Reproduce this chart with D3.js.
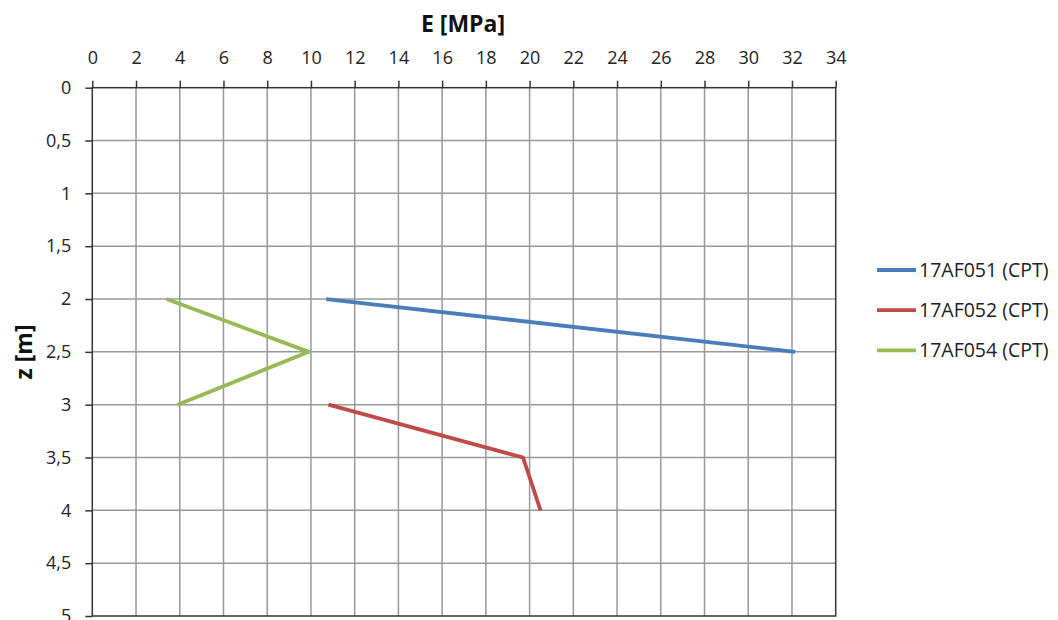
<!DOCTYPE html>
<html><head><meta charset="utf-8">
<script src="https://cdn.jsdelivr.net/npm/d3@7"></script>
<style>body{margin:0;background:#fff;} svg{display:block;font-family:"Open Sans","Liberation Sans",sans-serif;}</style>
</head><body><svg id="c" width="1058" height="620"></svg>
<script>
const xTicks = d3.range(0, 35, 2);
const yTicks = [0,0.5,1,1.5,2,2.5,3,3.5,4,4.5,5];
const seriesNames = ["17AF051 (CPT)", "17AF052 (CPT)", "17AF054 (CPT)"];
const seriesColors = ["#4a7ebb", "#be4b48", "#98b954"];
const s051 = [{E:10.7, z:2}, {E:32.15, z:2.5}];
const s052 = [{E:10.8, z:3}, {E:19.7, z:3.5}, {E:20.5, z:4}];
const s054 = [{E:3.4, z:2}, {E:9.9, z:2.5}, {E:3.9, z:3}];
const allSeries = [s051, s052, s054];

const svg = d3.select("#c");
const L = 92.3, R = 835.7, T = 87.7, B = 616;
const x = d3.scaleLinear().domain([0,34]).range([L,R]);
const y = d3.scaleLinear().domain([0,5]).range([T,B]);
const fmt = d => String(d).replace(".", ",");

// grid
svg.append("g").selectAll("line.v").data(xTicks.filter(d=>d>0&&d<34)).join("line")
  .attr("x1",d=>x(d)).attr("x2",d=>x(d)).attr("y1",T).attr("y2",B)
  .attr("stroke","#999").attr("stroke-width",1.5);
svg.append("g").selectAll("line.h").data(yTicks.filter(d=>d>0&&d<5)).join("line")
  .attr("x1",L).attr("x2",R).attr("y1",d=>y(d)).attr("y2",d=>y(d))
  .attr("stroke","#999").attr("stroke-width",1.5);

// axes
const xAx = svg.append("g").attr("transform",`translate(0,${T})`)
  .call(d3.axisTop(x).tickValues(xTicks).tickSize(7).tickPadding(17).tickFormat(d=>d));
const yAx = svg.append("g").attr("transform",`translate(${L},0)`)
  .call(d3.axisLeft(y).tickValues(yTicks).tickSize(7).tickPadding(14).tickFormat(fmt));
[xAx,yAx].forEach(a=>{
  a.select(".domain").remove();
  a.selectAll(".tick line").attr("stroke","#333").attr("stroke-width",1.5);
  a.selectAll(".tick text").attr("fill","#222").style("font-size","18px").attr("font-family","Open Sans, Liberation Sans, sans-serif");
});
// border
svg.append("rect").attr("x",L).attr("y",T).attr("width",R-L).attr("height",B-T)
  .attr("fill","none").attr("stroke","#333").attr("stroke-width",1.5);

// lines
const line = d3.line().x(d=>x(d.E)).y(d=>y(d.z));
svg.append("g").selectAll("path").data(allSeries).join("path")
  .attr("d",line).attr("fill","none")
  .attr("stroke",(d,i)=>seriesColors[i]).attr("stroke-width",3.8)
  .attr("stroke-linejoin","round");

// titles
svg.append("text").attr("x",463).attr("y",32).attr("text-anchor","middle")
  .style("font-size","23px").style("font-weight","bold").attr("fill","#111").text("E [MPa]");
svg.append("text").attr("transform","translate(32,352) rotate(-90)").attr("text-anchor","middle")
  .style("font-size","23px").style("font-weight","bold").attr("fill","#111").text("z [m]");

// legend
const lg = svg.append("g").selectAll("g").data(seriesNames).join("g")
  .attr("transform",(d,i)=>`translate(877,${270+i*40.2})`);
lg.append("line").attr("x1",0).attr("x2",39).attr("stroke",(d,i)=>seriesColors[i]).attr("stroke-width",3.8);
lg.append("text").attr("x",42).attr("y",7).style("font-size","19.5px").attr("fill","#222").text(d=>d);
</script></body></html>
